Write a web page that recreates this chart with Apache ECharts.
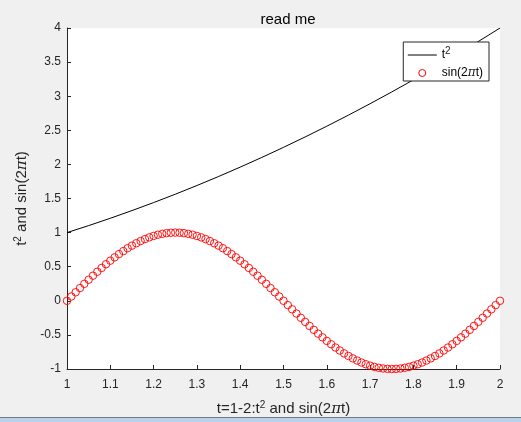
<!DOCTYPE html>
<html>
<head>
<meta charset="utf-8">
<title>read me</title>
<script src="https://cdn.jsdelivr.net/npm/echarts@6/dist/echarts.min.js"></script>
<style>
    html, body { margin: 0; padding: 0; background: #f0f0f0; }
    #chart { width: 521px; height: 422px; }
</style>
</head>
<body>
<div id="chart"></div>
<script>
// t^2 curve, sampled every 0.05
const tCoarse = [1, 1.05, 1.1, 1.15, 1.2, 1.25, 1.3, 1.35, 1.4, 1.45, 1.5,
    1.55, 1.6, 1.65, 1.7, 1.75, 1.8, 1.85, 1.9, 1.95, 2];
const tSquared = [1, 1.1025, 1.21, 1.3225, 1.44, 1.5625, 1.69, 1.8225, 1.96, 2.1025, 2.25,
    2.4025, 2.56, 2.7225, 2.89, 3.0625, 3.24, 3.4225, 3.61, 3.8025, 4];

// sin(2*pi*t) markers, t = 1:0.01:2
const tFine = [
    1.00, 1.01, 1.02, 1.03, 1.04, 1.05, 1.06, 1.07, 1.08, 1.09,
    1.10, 1.11, 1.12, 1.13, 1.14, 1.15, 1.16, 1.17, 1.18, 1.19,
    1.20, 1.21, 1.22, 1.23, 1.24, 1.25, 1.26, 1.27, 1.28, 1.29,
    1.30, 1.31, 1.32, 1.33, 1.34, 1.35, 1.36, 1.37, 1.38, 1.39,
    1.40, 1.41, 1.42, 1.43, 1.44, 1.45, 1.46, 1.47, 1.48, 1.49,
    1.50, 1.51, 1.52, 1.53, 1.54, 1.55, 1.56, 1.57, 1.58, 1.59,
    1.60, 1.61, 1.62, 1.63, 1.64, 1.65, 1.66, 1.67, 1.68, 1.69,
    1.70, 1.71, 1.72, 1.73, 1.74, 1.75, 1.76, 1.77, 1.78, 1.79,
    1.80, 1.81, 1.82, 1.83, 1.84, 1.85, 1.86, 1.87, 1.88, 1.89,
    1.90, 1.91, 1.92, 1.93, 1.94, 1.95, 1.96, 1.97, 1.98, 1.99,
    2.00
];
const sinValues = [
    0, 0.063, 0.125, 0.187, 0.249, 0.309, 0.368, 0.426, 0.482, 0.536,
    0.588, 0.637, 0.685, 0.729, 0.771, 0.809, 0.844, 0.876, 0.905, 0.930,
    0.951, 0.969, 0.982, 0.992, 0.998, 1, 0.998, 0.992, 0.982, 0.969,
    0.951, 0.930, 0.905, 0.876, 0.844, 0.809, 0.771, 0.729, 0.685, 0.637,
    0.588, 0.536, 0.482, 0.426, 0.368, 0.309, 0.249, 0.187, 0.125, 0.063,
    0, -0.063, -0.125, -0.187, -0.249, -0.309, -0.368, -0.426, -0.482, -0.536,
    -0.588, -0.637, -0.685, -0.729, -0.771, -0.809, -0.844, -0.876, -0.905, -0.930,
    -0.951, -0.969, -0.982, -0.992, -0.998, -1, -0.998, -0.992, -0.982, -0.969,
    -0.951, -0.930, -0.905, -0.876, -0.844, -0.809, -0.771, -0.729, -0.685, -0.637,
    -0.588, -0.536, -0.482, -0.426, -0.368, -0.309, -0.249, -0.187, -0.125, -0.063,
    0
];

const axisColor = "#262626";
const font = "Liberation Sans, Arial, sans-serif";
const richText = {
    sup: { fontSize: 10, padding: [0, 0, 8, 0], color: axisColor, fontFamily: font },
    pi: { fontFamily: "DejaVu Serif, serif", fontStyle: "italic", color: axisColor }
};

const ecIns = echarts.init(document.getElementById("chart"));
ecIns.setOption({
    backgroundColor: "#f0f0f0",
    animation: false,
    textStyle: { fontFamily: font },
    title: {
        text: "read me",
        left: 283,
        top: 7,
        textAlign: "center",
        textStyle: { fontSize: 15, fontWeight: "normal", color: "#000", fontFamily: font }
    },
    grid: {
        left: 67,
        right: 21,
        top: 28,
        bottom: 53,
        show: true,
        backgroundColor: "#fff",
        borderWidth: 0
    },
    legend: {
        orient: "vertical",
        right: 32,
        top: 42,
        itemWidth: 29,
        itemHeight: 7,
        itemGap: 6,
        padding: [4, 6, 2, 4],
        backgroundColor: "#fff",
        borderColor: axisColor,
        borderWidth: 1,
        borderRadius: 0,
        data: [
            { name: "sq", itemStyle: { opacity: 0 }, lineStyle: { width: 1, color: "#000" } },
            { name: "sin", itemStyle: { color: "rgba(0,0,0,0)", borderColor: "#ff0000", borderWidth: 1 } }
        ],
        formatter: (name) => (name === "sq" ? "t{sup|2}" : "sin(2{pi|π}t)"),
        textStyle: { fontSize: 12, color: "#000", fontFamily: font, rich: richText }
    },
    xAxis: {
        type: "value",
        min: 1,
        max: 2,
        interval: 0.1,
        name: "t=1-2:t{sup|2} and sin(2{pi|π}t)",
        nameLocation: "middle",
        nameGap: 31,
        nameTextStyle: { fontSize: 15, color: axisColor, fontFamily: font, rich: richText },
        axisLine: { onZero: false, lineStyle: { color: axisColor, width: 1 } },
        axisTick: { inside: true, length: 4, lineStyle: { color: axisColor } },
        axisLabel: { fontSize: 12, color: axisColor, margin: 10, fontFamily: font },
        splitLine: { show: false }
    },
    yAxis: {
        type: "value",
        min: -1,
        max: 4,
        interval: 0.5,
        name: "t{sup|2} and sin(2{pi|π}t)",
        nameLocation: "middle",
        nameGap: 28,
        nameTextStyle: { fontSize: 15, color: axisColor, fontFamily: font, rich: richText },
        axisLine: { show: true, onZero: false, lineStyle: { color: axisColor, width: 1 } },
        axisTick: { show: true, inside: true, length: 4, lineStyle: { color: axisColor } },
        axisLabel: { fontSize: 12, color: axisColor, margin: 6, fontFamily: font },
        splitLine: { show: false }
    },
    series: [
        {
            name: "sq",
            type: "line",
            data: tCoarse.map((t, i) => [t, tSquared[i]]),
            showSymbol: false,
            symbol: "none",
            color: "#000",
            lineStyle: { color: "#000", width: 1 },
            z: 3
        },
        {
            name: "sin",
            type: "scatter",
            data: tFine.map((t, i) => [t, sinValues[i]]),
            symbol: "circle",
            symbolSize: 7.5,
            itemStyle: { color: "rgba(0,0,0,0)", borderColor: "#ff0000", borderWidth: 0.9, opacity: 1 },
            z: 2
        }
    ],
    graphic: [
        { type: "rect", shape: { x: 0, y: 417, width: 521, height: 1 }, style: { fill: "#6f7b87" }, silent: true },
        { type: "rect", shape: { x: 0, y: 418, width: 521, height: 4 }, style: { fill: "#b9d1ea" }, silent: true }
    ]
});
</script>
</body>
</html>
